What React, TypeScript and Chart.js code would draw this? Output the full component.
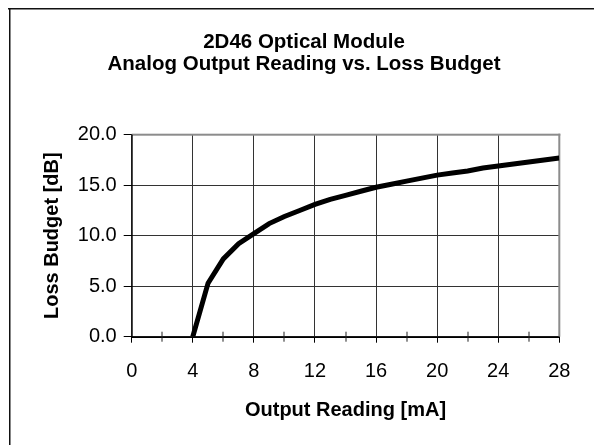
import { useEffect, useRef } from "react";
import { Chart, registerables } from "chart.js";

Chart.register(...registerables);

const titleLines = ["2D46 Optical Module", "Analog Output Reading vs. Loss Budget"];
const xAxisTitle = "Output Reading [mA]";
const yAxisTitle = "Loss Budget [dB]";

const outputReading = [4, 5, 6, 7, 8, 9, 10, 11, 12, 13, 14, 15, 16, 17, 18, 19, 20, 21, 22, 23, 24, 25, 26, 27, 28];
const lossBudget = [0, 5.3, 7.7, 9.2, 10.2, 11.2, 11.9, 12.5, 13.1, 13.6, 14.0, 14.4, 14.8, 15.1, 15.4, 15.7, 16.0, 16.2, 16.4, 16.7, 16.9, 17.1, 17.3, 17.5, 17.7];

const xMin = 0;
const xMax = 28;
const xStep = 4;
const minorXTicks = [2, 6, 10, 14, 18, 22, 26];
const yMin = 0;
const yMax = 20;
const yStep = 5;

const FONT = "'Liberation Sans', Arial, Helvetica, sans-serif";

const framePlugin = {
  id: "frame",
  beforeDraw(chart: any) {
    const { ctx, width, height } = chart;
    ctx.save();
    ctx.fillStyle = "#ffffff";
    ctx.fillRect(0, 0, width, height);
    ctx.restore();
  },
  beforeDatasetsDraw(chart: any) {
    const { ctx, chartArea, scales } = chart;
    const { left, right, top, bottom } = chartArea;
    ctx.save();
    ctx.fillStyle = "#8c8c8c";
    ctx.fillRect(left, top - 1, right - left + 1, 2);
    ctx.fillRect(right - 1, top - 1, 2, bottom - top + 1);
    ctx.fillStyle = "#000000";
    ctx.fillRect(Math.round(left) - 0.5, top, 1.2, bottom - top + 1);
    ctx.fillRect(left, Math.round(bottom) - 0.5, right - left, 1.5);
    ctx.fillStyle = "#222222";
    minorXTicks.forEach((v) => {
      const px = Math.round(scales.x.getPixelForValue(v));
      ctx.fillRect(px - 0.5, bottom - 5, 1, 10);
    });
    ctx.restore();
  },
  afterDraw(chart: any) {
    const { ctx, width, height } = chart;
    ctx.save();
    ctx.fillStyle = "#111111";
    ctx.fillRect(8, 8, width - 8, 1.5);
    ctx.fillRect(9, 8, 1.5, height - 8);
    ctx.restore();
  },
};

export default function App() {
  const canvasRef = useRef<HTMLCanvasElement | null>(null);

  useEffect(() => {
    const canvas = canvasRef.current;
    if (!canvas) return;
    const points = outputReading.map((x, i) => ({ x, y: lossBudget[i] }));
    const chart = new Chart(canvas, {
      type: "line",
      data: {
        datasets: [
          {
            data: points,
            borderColor: "#000000",
            borderWidth: 5,
            pointRadius: 0,
            tension: 0,
            fill: false,
          },
        ],
      },
      options: {
        responsive: false,
        devicePixelRatio: 1,
        animation: false,
        layout: { padding: { left: 48.7, right: 34.7, top: 0, bottom: 0 } },
        plugins: {
          legend: { display: false },
          tooltip: { enabled: false },
          title: {
            display: true,
            text: titleLines,
            color: "#000000",
            font: { family: FONT, size: 20.5, weight: "bold", lineHeight: "22px" },
            padding: { top: 31.5, bottom: 59.2 },
          },
        },
        scales: {
          x: {
            type: "linear",
            min: xMin,
            max: xMax,
            afterFit(scale: any) {
              scale.height = 108.3;
            },
            ticks: {
              stepSize: xStep,
              color: "#000000",
              padding: 17,
              font: { family: FONT, size: 20 },
            },
            grid: {
              color: "#333333",
              lineWidth: 1,
              drawTicks: true,
              tickLength: 6,
              tickColor: "#000000",
            },
            border: { display: false },
            title: {
              display: true,
              text: xAxisTitle,
              color: "#000000",
              font: { family: FONT, size: 20, weight: "bold" },
              padding: { top: 0, bottom: 23 },
            },
          },
          y: {
            type: "linear",
            min: yMin,
            max: yMax,
            afterFit(scale: any) {
              scale.width = 83;
            },
            ticks: {
              stepSize: yStep,
              color: "#000000",
              padding: 7,
              font: { family: FONT, size: 20 },
              callback: (v: any) => Number(v).toFixed(1),
            },
            grid: {
              color: "#333333",
              lineWidth: 1,
              drawTicks: true,
              tickLength: 8,
              tickColor: "#000000",
            },
            border: { display: false },
            title: {
              display: true,
              text: yAxisTitle,
              color: "#000000",
              font: { family: FONT, size: 20, weight: "bold" },
              padding: { top: -8.7, bottom: 0 },
            },
          },
        },
      },
      plugins: [framePlugin],
    });
    return () => chart.destroy();
  }, []);

  return (
    <div style={{ position: "absolute", left: 0, top: 0, width: 594, height: 445 }}>
      <canvas ref={canvasRef} width={594} height={445} />
    </div>
  );
}
